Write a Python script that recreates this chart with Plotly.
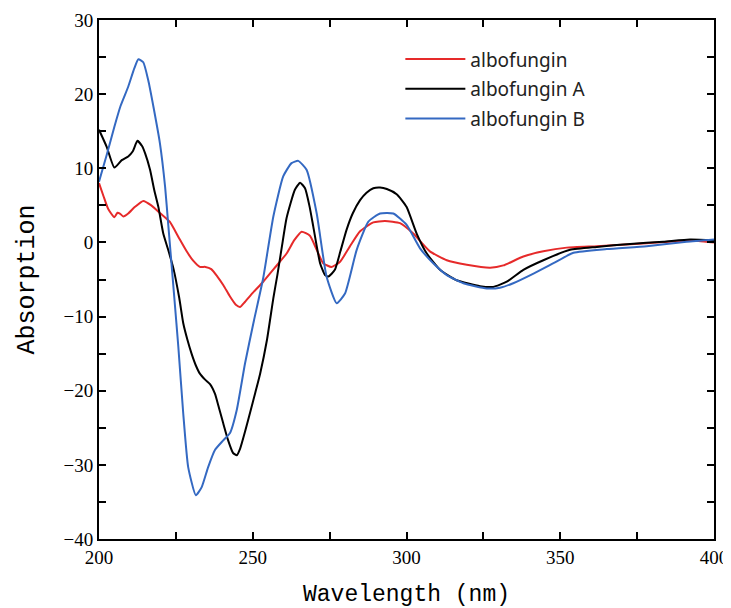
import plotly.graph_objects as go

# albofungin (red)
wl_red = [200, 201.5, 203, 205, 206, 206.8, 207.9, 209.5, 211.7, 214.4, 217, 220, 223, 226,
          228.5, 230.7, 232.8, 234.6, 236.5, 238.5, 240.5, 242.6, 244.5, 245.9, 247.5, 250,
          253.4, 257, 261, 263.5, 265.9, 268.6, 270.8, 272.9, 275.6, 278.4, 281.5, 284.9,
          289.2, 293, 297.9, 302.2, 307.6, 313.1, 319.6, 327.2, 331.5, 338, 344.5, 352.1,
          361.9, 370, 378.1, 389, 395, 400]
abs_red = [8.0, 6.2, 4.5, 3.4, 4.0, 3.9, 3.5, 3.9, 4.8, 5.6, 5.0, 3.9, 2.8, 0.6,
           -1.2, -2.5, -3.3, -3.3, -3.6, -4.6, -5.8, -7.3, -8.4, -8.7, -8.0, -6.8,
           -5.3, -3.5, -1.5, 0.3, 1.45, 0.9, -1.0, -2.8, -3.3, -2.6, -0.6, 1.5,
           2.7, 2.9, 2.6, 1.2, -1.2, -2.4, -3.0, -3.4, -3.1, -1.9, -1.2, -0.7,
           -0.5, -0.3, -0.1, 0.2, 0.2, 0.0]

# albofungin A (black)
wl_a = [200, 202.5, 205, 207.4, 209.5, 211, 212.5, 214, 215, 216.6, 218, 219.3, 220.9, 222.5,
        224.2, 226.1, 227.4, 228.8, 230.1, 231.5, 232.8, 234.5, 236.1, 237.7, 239, 240.4,
        242, 243.6, 244.8, 245.9, 247.5, 249.1, 250.8, 252.4, 254.6, 256.7, 258, 259.5,
        261, 263.7, 265.4, 267, 268.5, 269.7, 271.9, 273.5, 274.6, 276.7, 278.5, 280.5,
        282.5, 284.9, 287, 289.2, 291.4, 293.6, 296.8, 300, 303.3, 306.6, 310.9, 316.3,
        323.9, 328.2, 332.6, 338, 344.5, 353.2, 361.9, 372.7, 383.5, 392.2, 400]
abs_a = [15.2, 12.9, 10.1, 11.1, 11.6, 12.3, 13.7, 13.0, 12.0, 9.8, 7.0, 4.8, 1.2, -1.0,
         -3.5, -7.5, -10.9, -13.2, -15.0, -16.6, -17.7, -18.5, -19.1, -20.4, -22.3, -24.4,
         -26.7, -28.4, -28.7, -27.8, -25.5, -23.0, -20.3, -17.7, -13.2, -7.5, -4.4, -0.5,
         3.3, 7.1, 8.05, 7.3, 4.8, 2.1, -2.8, -4.4, -4.6, -3.7, -1.2, 1.7,
         3.9, 5.7, 6.7, 7.3, 7.4, 7.2, 6.5, 4.8, 1.2, -1.5, -3.7, -5.1,
         -5.9, -6.0, -5.3, -3.7, -2.4, -1.0, -0.6, -0.2, 0.1, 0.4, 0.3]

# albofungin B (blue)
wl_b = [200, 202.5, 205, 207, 209.5, 211.5, 212.8, 214.4, 216, 217.7, 219.8, 221.5, 222.5,
        223.6, 224.5, 225.8, 227.4, 229, 231.5, 233.4, 235.5, 237.7, 240.4, 242.6, 244.8,
        247.5, 250.2, 253.4, 256.7, 259.9, 262.6, 264.8, 267.5, 270.8, 274, 277.3, 280,
        283.8, 287.6, 291.4, 295.7, 300, 304.4, 308.7, 313.1, 318.5, 326.1, 330.4, 334.7,
        341.3, 347.8, 354.3, 365.1, 378.1, 391.1, 400]
abs_b = [8.2, 11.8, 15.6, 18.4, 21.0, 23.5, 24.7, 24.3, 21.9, 18.3, 13.4, 7.5, 2.5,
         -3.0, -7.5, -14.1, -23.1, -30.3, -34.1, -33.0, -30.3, -28.0, -26.7, -25.7, -22.6,
         -16.3, -10.9, -4.8, 3.5, 8.9, 10.7, 11.0, 9.8, 3.9, -4.6, -8.2, -6.9,
         -1.0, 2.8, 3.9, 3.9, 2.4, -0.8, -2.8, -4.4, -5.5, -6.2, -6.1, -5.5,
         -4.2, -2.8, -1.4, -0.9, -0.5, 0.1, 0.4]

series = [
    ("albofungin", wl_red, abs_red, "#e62a2a"),
    ("albofungin A", wl_a, abs_a, "#000000"),
    ("albofungin B", wl_b, abs_b, "#3469c2"),
]

fig = go.Figure()
for name, xs, ys, color in series:
    fig.add_trace(go.Scatter(
        x=xs, y=ys, mode="lines", name=name, legendgroup=name,
        line=dict(color=color, width=2, shape="spline", smoothing=0.5),
    ))

tick_font = dict(family="Liberation Serif", size=19, color="#000")
axis_common = dict(
    showline=True, linecolor="#000", linewidth=2, mirror="ticks",
    ticks="inside", ticklen=7, tickwidth=2, tickcolor="#000",
    showgrid=False, zeroline=False, tickfont=tick_font, automargin=False,
)

fig.update_xaxes(
    range=[200, 400], dtick=50, tick0=200,
    minor=dict(dtick=25, ticks="inside", ticklen=7, tickwidth=2, tickcolor="#000"),
    title=dict(text="Wavelength (nm)", standoff=21,
               font=dict(family="Liberation Mono", size=23, color="#000")),
    **axis_common,
)
fig.update_yaxes(
    range=[-40, 30], dtick=10, tick0=0,
    minor=dict(dtick=5, ticks="inside", ticklen=7, tickwidth=2, tickcolor="#000"),
    title=dict(text="Absorption", standoff=22,
               font=dict(family="Liberation Mono", size=25, color="#000")),
    **axis_common,
)

# page body adds an 8px offset, so the figure is sized to fit the window
fig.update_layout(
    width=723, height=600,
    margin=dict(l=91, r=17, t=12, b=69),
    paper_bgcolor="white", plot_bgcolor="white",
    legend=dict(
        x=0.49, y=0.961, xanchor="left", yanchor="top",
        font=dict(family="Noto Sans", size=19, color="#222"),
        bgcolor="rgba(0,0,0,0)", tracegroupgap=2, traceorder="grouped",
        itemwidth=60,
    ),
)

fig.write_html("out.html")
